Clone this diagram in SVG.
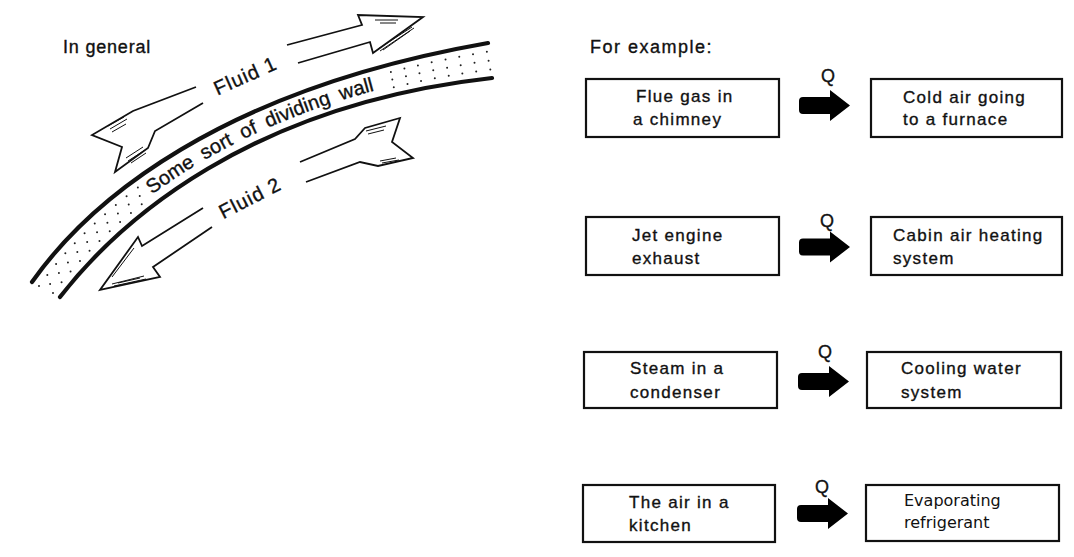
<svg xmlns="http://www.w3.org/2000/svg" width="1074" height="557" viewBox="0 0 1074 557">
<style>
  .t { font-family: "Liberation Sans", Arial, sans-serif; font-size: 17px; letter-spacing: 1.3px; fill: #111; stroke: #111; stroke-width: 0.35; }
  .lbl { font-family: "Liberation Sans", Arial, sans-serif; font-size: 20px; fill: #111; stroke: #111; stroke-width: 0.35; }
  .ev { font-family: "DejaVu Sans", sans-serif; font-size: 16px; fill: #111; }
  .box { fill: #fff; stroke: #111; stroke-width: 2.2; }
  .wall { fill: none; stroke: #111; stroke-width: 4.2; stroke-linecap: round; }
  .dots { fill: none; stroke: #222; stroke-width: 2; stroke-linecap: round; stroke-dasharray: 0 14; }
  .fl { fill: none; stroke: #111; stroke-width: 1.8; stroke-linejoin: miter; }
  .hatch { fill: none; stroke: #111; stroke-width: 1; }
  .q { fill: #000; }
</style>
<defs>
  <path id="qarrow" d="M4,-8.5 L31,-8.5 L31,-15.5 L51,0 L31,15.5 L31,8.5 L4,8.5 Q0,8.5 0,4.5 L0,-4.5 Q0,-8.5 4,-8.5 Z"/>
  <path id="wallText" d="M51.6,292.5 C111,214 241,100.5 490.8,67.5"/>
</defs>
<rect width="1074" height="557" fill="#fff"/>

<g id="general">
  <text class="t" x="63" y="53" style="font-size:18px;letter-spacing:0.8px">In general</text>
  <!-- stippled wall -->
  <path class="dots" d="M39,286 C97.5,205 227.5,94 489,51.5"/>
  <path class="dots" d="M46,289.5 C105,210 235,97.5 490,60.5" stroke-dashoffset="7"/>
  <path class="dots" d="M53,293 C112.5,215 242.5,101 491,69.5"/>
  <path d="M51.6,292.5 C111,214 241,100.5 490.8,67.5" fill="none" stroke="#fff" stroke-width="24" stroke-dasharray="0 135 262 1000" transform="translate(0,-6)"/>
  <text class="lbl" word-spacing="5"><textPath href="#wallText" startOffset="141">Some sort of dividing wall</textPath></text>
  <path class="wall" d="M32,282 C90,200 220,90 488,43"/>
  <path class="wall" d="M60,297 C120,220 250,105 492,78"/>

  <!-- Fluid 1 -->
  <polyline class="fl" points="196,87 133,111 92,135 122,147 115,172 148,148 155,131 203,103"/>
  <path class="hatch" d="M108,126 L124,117 M110,129 L127,119 M112,132 L126,124 M126,158 L143,147 M128,161 L145,150 M131,163 L146,153"/>
  <polyline class="fl" points="287,45 362,25 358,15 423,17 373,53 370,42 298,63"/>
  <path class="hatch" d="M375,20 L398,20 M380,23 L396,23 M378,49 L412,27 M380,51 L414,28 M383,50 L410,31"/>
  <text class="lbl" transform="translate(248,82) rotate(-24)" text-anchor="middle" letter-spacing="1">Fluid 1</text>

  <!-- Fluid 2 -->
  <polyline class="fl" points="300,162 355,139 365,128 400,118 392,142 413,158 378,166 360,162 306,182"/>
  <path class="hatch" d="M366,131 L386,126 M368,134 L384,130 M380,161 L396,158 M382,163 L399,160"/>
  <polyline class="fl" points="203,208 142,246 138,237 100,290 160,277 153,267 212,227"/>
  <path class="hatch" d="M112,284 L144,276 M114,286 L146,279 M118,283 L140,278 M112,277 L134,248"/>
  <text class="lbl" transform="translate(253,204) rotate(-27)" text-anchor="middle" letter-spacing="1">Fluid 2</text>
</g>

<text class="t" x="590" y="53" style="font-size:18px;letter-spacing:1.5px">For example:</text>

<g id="flue-gas">
  <rect class="box" x="586" y="79" width="193" height="58"/>
  <text class="t" x="636" y="102">Flue gas in</text>
  <text class="t" x="633" y="125">a chimney</text>
</g>
<g id="cold-air">
  <rect class="box" x="871" y="79" width="191" height="58"/>
  <text class="t" x="903" y="103">Cold air going</text>
  <text class="t" x="903" y="125">to a furnace</text>
</g>
<g id="jet-engine">
  <rect class="box" x="586" y="217" width="193" height="58"/>
  <text class="t" x="632" y="241">Jet engine</text>
  <text class="t" x="632" y="264">exhaust</text>
</g>
<g id="cabin-air">
  <rect class="box" x="871" y="217" width="191" height="58"/>
  <text class="t" x="893" y="241">Cabin air heating</text>
  <text class="t" x="893" y="264">system</text>
</g>
<g id="steam">
  <rect class="box" x="584" y="352" width="193" height="56"/>
  <text class="t" x="630" y="374">Steam in a</text>
  <text class="t" x="630" y="398">condenser</text>
</g>
<g id="cooling-water">
  <rect class="box" x="867" y="352" width="194" height="56"/>
  <text class="t" x="901" y="374">Cooling water</text>
  <text class="t" x="901" y="398">system</text>
</g>
<g id="kitchen-air">
  <rect class="box" x="583" y="485" width="192" height="57"/>
  <text class="t" x="629" y="508">The air in a</text>
  <text class="t" x="629" y="531">kitchen</text>
</g>
<g id="refrigerant">
  <rect class="box" x="866" y="485" width="193" height="56"/>
  <text class="ev" x="904" y="506">Evaporating</text>
  <text class="ev" x="904" y="528">refrigerant</text>
</g>

<g id="connectors">
  <use href="#qarrow" class="q" x="799" y="105.5"/>
  <text class="t" x="828" y="82" text-anchor="middle" style="font-size:18px;letter-spacing:0">Q</text>
  <use href="#qarrow" class="q" x="799" y="247"/>
  <text class="t" x="827" y="227" text-anchor="middle" style="font-size:18px;letter-spacing:0">Q</text>
  <use href="#qarrow" class="q" x="798" y="381.5"/>
  <text class="t" x="825" y="358" text-anchor="middle" style="font-size:18px;letter-spacing:0">Q</text>
  <use href="#qarrow" class="q" x="797" y="513.5"/>
  <text class="t" x="822" y="493" text-anchor="middle" style="font-size:18px;letter-spacing:0">Q</text>
</g>
</svg>
